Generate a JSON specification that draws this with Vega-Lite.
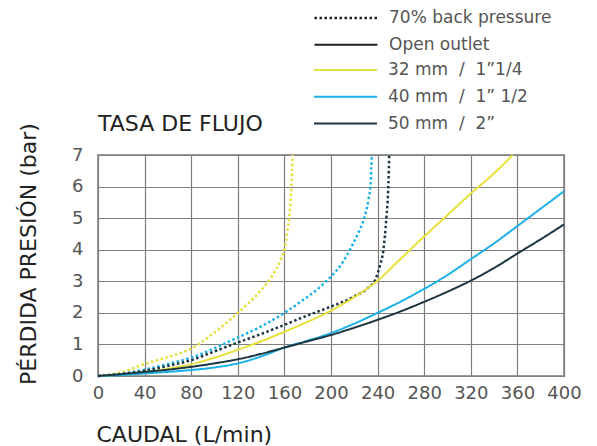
{
  "$schema": "https://vega.github.io/schema/vega-lite/v6.json",
  "width": 466,
  "height": 221,
  "autosize": "none",
  "padding": {"left": 98, "top": 155, "right": 33, "bottom": 70},
  "background": "white",
  "title": {"text": "TASA DE FLUJO", "anchor": "start", "frame": "group", "font": "DejaVu Sans", "fontSize": 22, "fontWeight": "normal", "color": "#222222", "offset": -126},
  "config": {
    "view": {"stroke": "#9a9a9a", "strokeWidth": 2},
    "axis": {"grid": true, "gridColor": "#7f7f7f", "gridWidth": 1.2, "gridOpacity": 1, "domain": false, "ticks": false, "tickSize": 0, "labelFont": "DejaVu Sans", "labelFontSize": 18, "labelColor": "#555555", "labelOverlap": false, "labelFlush": false, "titleFont": "DejaVu Sans", "titleFontSize": 22, "titleFontWeight": "normal", "titleColor": "#222222"},
    "legend": {"labelFont": "DejaVu Sans", "labelFontSize": 17, "labelColor": "#555555", "labelLimit": 400}
  },
  "data": {"values": [
    {"q": 0, "p": 0, "size": "32", "mode": "bp"},
    {"q": 20, "p": 0.12, "size": "32", "mode": "bp"},
    {"q": 40, "p": 0.38, "size": "32", "mode": "bp"},
    {"q": 60, "p": 0.6, "size": "32", "mode": "bp"},
    {"q": 80, "p": 0.87, "size": "32", "mode": "bp"},
    {"q": 100, "p": 1.38, "size": "32", "mode": "bp"},
    {"q": 120, "p": 2.0, "size": "32", "mode": "bp"},
    {"q": 140, "p": 2.72, "size": "32", "mode": "bp"},
    {"q": 150, "p": 3.2, "size": "32", "mode": "bp"},
    {"q": 157, "p": 3.7, "size": "32", "mode": "bp"},
    {"q": 160, "p": 4.0, "size": "32", "mode": "bp"},
    {"q": 163, "p": 4.7, "size": "32", "mode": "bp"},
    {"q": 165, "p": 5.4, "size": "32", "mode": "bp"},
    {"q": 166, "p": 6.0, "size": "32", "mode": "bp"},
    {"q": 166.6, "p": 6.5, "size": "32", "mode": "bp"},
    {"q": 167, "p": 7.0, "size": "32", "mode": "bp"},

    {"q": 0, "p": 0, "size": "40", "mode": "bp"},
    {"q": 20, "p": 0.07, "size": "40", "mode": "bp"},
    {"q": 40, "p": 0.2, "size": "40", "mode": "bp"},
    {"q": 60, "p": 0.38, "size": "40", "mode": "bp"},
    {"q": 80, "p": 0.58, "size": "40", "mode": "bp"},
    {"q": 100, "p": 0.88, "size": "40", "mode": "bp"},
    {"q": 120, "p": 1.22, "size": "40", "mode": "bp"},
    {"q": 140, "p": 1.57, "size": "40", "mode": "bp"},
    {"q": 160, "p": 2.0, "size": "40", "mode": "bp"},
    {"q": 175, "p": 2.38, "size": "40", "mode": "bp"},
    {"q": 190, "p": 2.8, "size": "40", "mode": "bp"},
    {"q": 200, "p": 3.15, "size": "40", "mode": "bp"},
    {"q": 210, "p": 3.6, "size": "40", "mode": "bp"},
    {"q": 217, "p": 4.05, "size": "40", "mode": "bp"},
    {"q": 223, "p": 4.5, "size": "40", "mode": "bp"},
    {"q": 228, "p": 4.95, "size": "40", "mode": "bp"},
    {"q": 232, "p": 5.55, "size": "40", "mode": "bp"},
    {"q": 234, "p": 6.1, "size": "40", "mode": "bp"},
    {"q": 235, "p": 7.0, "size": "40", "mode": "bp"},

    {"q": 0, "p": 0, "size": "50", "mode": "bp"},
    {"q": 20, "p": 0.06, "size": "50", "mode": "bp"},
    {"q": 40, "p": 0.16, "size": "50", "mode": "bp"},
    {"q": 60, "p": 0.32, "size": "50", "mode": "bp"},
    {"q": 80, "p": 0.5, "size": "50", "mode": "bp"},
    {"q": 100, "p": 0.78, "size": "50", "mode": "bp"},
    {"q": 120, "p": 1.06, "size": "50", "mode": "bp"},
    {"q": 140, "p": 1.33, "size": "50", "mode": "bp"},
    {"q": 160, "p": 1.62, "size": "50", "mode": "bp"},
    {"q": 180, "p": 1.92, "size": "50", "mode": "bp"},
    {"q": 200, "p": 2.2, "size": "50", "mode": "bp"},
    {"q": 220, "p": 2.52, "size": "50", "mode": "bp"},
    {"q": 232, "p": 2.8, "size": "50", "mode": "bp"},
    {"q": 238, "p": 3.05, "size": "50", "mode": "bp"},
    {"q": 242, "p": 3.5, "size": "50", "mode": "bp"},
    {"q": 245, "p": 4.0, "size": "50", "mode": "bp"},
    {"q": 247.5, "p": 5.0, "size": "50", "mode": "bp"},
    {"q": 249.3, "p": 6.1, "size": "50", "mode": "bp"},
    {"q": 250, "p": 7.0, "size": "50", "mode": "bp"},

    {"q": 0, "p": 0, "size": "32", "mode": "open"},
    {"q": 20, "p": 0.04, "size": "32", "mode": "open"},
    {"q": 40, "p": 0.12, "size": "32", "mode": "open"},
    {"q": 60, "p": 0.23, "size": "32", "mode": "open"},
    {"q": 80, "p": 0.37, "size": "32", "mode": "open"},
    {"q": 100, "p": 0.58, "size": "32", "mode": "open"},
    {"q": 120, "p": 0.83, "size": "32", "mode": "open"},
    {"q": 140, "p": 1.1, "size": "32", "mode": "open"},
    {"q": 160, "p": 1.4, "size": "32", "mode": "open"},
    {"q": 180, "p": 1.72, "size": "32", "mode": "open"},
    {"q": 200, "p": 2.07, "size": "32", "mode": "open"},
    {"q": 220, "p": 2.5, "size": "32", "mode": "open"},
    {"q": 240, "p": 3.02, "size": "32", "mode": "open"},
    {"q": 260, "p": 3.72, "size": "32", "mode": "open"},
    {"q": 280, "p": 4.42, "size": "32", "mode": "open"},
    {"q": 300, "p": 5.1, "size": "32", "mode": "open"},
    {"q": 320, "p": 5.78, "size": "32", "mode": "open"},
    {"q": 340, "p": 6.42, "size": "32", "mode": "open"},
    {"q": 356, "p": 7.0, "size": "32", "mode": "open"},

    {"q": 0, "p": 0, "size": "40", "mode": "open"},
    {"q": 20, "p": 0.03, "size": "40", "mode": "open"},
    {"q": 40, "p": 0.08, "size": "40", "mode": "open"},
    {"q": 60, "p": 0.13, "size": "40", "mode": "open"},
    {"q": 80, "p": 0.19, "size": "40", "mode": "open"},
    {"q": 100, "p": 0.27, "size": "40", "mode": "open"},
    {"q": 120, "p": 0.4, "size": "40", "mode": "open"},
    {"q": 140, "p": 0.62, "size": "40", "mode": "open"},
    {"q": 160, "p": 0.9, "size": "40", "mode": "open"},
    {"q": 180, "p": 1.12, "size": "40", "mode": "open"},
    {"q": 200, "p": 1.36, "size": "40", "mode": "open"},
    {"q": 220, "p": 1.66, "size": "40", "mode": "open"},
    {"q": 240, "p": 2.0, "size": "40", "mode": "open"},
    {"q": 260, "p": 2.36, "size": "40", "mode": "open"},
    {"q": 280, "p": 2.76, "size": "40", "mode": "open"},
    {"q": 300, "p": 3.2, "size": "40", "mode": "open"},
    {"q": 320, "p": 3.7, "size": "40", "mode": "open"},
    {"q": 340, "p": 4.2, "size": "40", "mode": "open"},
    {"q": 360, "p": 4.75, "size": "40", "mode": "open"},
    {"q": 380, "p": 5.3, "size": "40", "mode": "open"},
    {"q": 400, "p": 5.85, "size": "40", "mode": "open"},

    {"q": 0, "p": 0, "size": "50", "mode": "open"},
    {"q": 20, "p": 0.06, "size": "50", "mode": "open"},
    {"q": 40, "p": 0.13, "size": "50", "mode": "open"},
    {"q": 60, "p": 0.2, "size": "50", "mode": "open"},
    {"q": 80, "p": 0.29, "size": "50", "mode": "open"},
    {"q": 100, "p": 0.4, "size": "50", "mode": "open"},
    {"q": 120, "p": 0.53, "size": "50", "mode": "open"},
    {"q": 140, "p": 0.7, "size": "50", "mode": "open"},
    {"q": 160, "p": 0.9, "size": "50", "mode": "open"},
    {"q": 180, "p": 1.1, "size": "50", "mode": "open"},
    {"q": 200, "p": 1.3, "size": "50", "mode": "open"},
    {"q": 220, "p": 1.53, "size": "50", "mode": "open"},
    {"q": 240, "p": 1.78, "size": "50", "mode": "open"},
    {"q": 260, "p": 2.05, "size": "50", "mode": "open"},
    {"q": 280, "p": 2.35, "size": "50", "mode": "open"},
    {"q": 300, "p": 2.67, "size": "50", "mode": "open"},
    {"q": 320, "p": 3.02, "size": "50", "mode": "open"},
    {"q": 340, "p": 3.42, "size": "50", "mode": "open"},
    {"q": 360, "p": 3.88, "size": "50", "mode": "open"},
    {"q": 380, "p": 4.33, "size": "50", "mode": "open"},
    {"q": 400, "p": 4.8, "size": "50", "mode": "open"}
  ]},
  "mark": {"type": "line", "interpolate": "monotone"},
  "encoding": {
    "x": {"field": "q", "type": "quantitative", "scale": {"domain": [0, 400], "nice": false, "zero": true},
      "axis": {"values": [0, 40, 80, 120, 160, 200, 240, 280, 320, 360, 400], "title": "CAUDAL (L/min)", "labelPadding": 8, "titleAlign": "left", "titleAnchor": "start", "titleBaseline": "alphabetic", "titleX": -2, "titleY": 65}},
    "y": {"field": "p", "type": "quantitative", "scale": {"domain": [0, 7], "nice": false},
      "axis": {"values": [0, 1, 2, 3, 4, 5, 6, 7], "title": "PÉRDIDA PRESIÓN (bar)", "labelPadding": 15, "titleAngle": 270, "titleAlign": "center", "titleBaseline": "alphabetic", "titleX": -63, "titleY": 98.5}},
    "color": {"field": "size", "type": "nominal",
      "scale": {"domain": ["32", "40", "50"], "range": ["#e6e03a", "#1bb1e7", "#1c3541"]},
      "legend": {"title": null, "orient": "none", "legendX": 215, "legendY": -93, "padding": 0, "symbolType": "stroke", "symbolSize": 3969, "symbolStrokeWidth": 2, "clipHeight": 16, "rowPadding": 9.8, "labelOffset": 10,
        "labelExpr": "datum.value === '32' ? '32 mm\u00a0 /\u00a0 1”1/4' : datum.value === '40' ? '40 mm\u00a0 /\u00a0 1” 1/2' : '50 mm\u00a0 /\u00a0 2”'"}},
    "strokeDash": {"field": "mode", "type": "nominal",
      "scale": {"domain": ["bp", "open"], "range": [[2.5, 2.5], [1, 0]]},
      "legend": {"title": null, "orient": "none", "legendX": 215, "legendY": -145, "padding": 0, "symbolType": "stroke", "symbolSize": 3969, "symbolStrokeWidth": 1.5, "symbolStrokeColor": "#222222", "clipHeight": 16, "rowPadding": 9.8, "labelOffset": 10,
        "labelExpr": "datum.value === 'bp' ? '70% back pressure' : 'Open outlet'",
        "encode": {"symbols": {"update": {"strokeDash": {"signal": "datum.value === 'bp' ? [1.2, 1.2] : [1, 0]"}}}}}},
    "strokeWidth": {"field": "mode", "type": "nominal", "scale": {"domain": ["bp", "open"], "range": [2.5, 2]}, "legend": null}
  }
}
